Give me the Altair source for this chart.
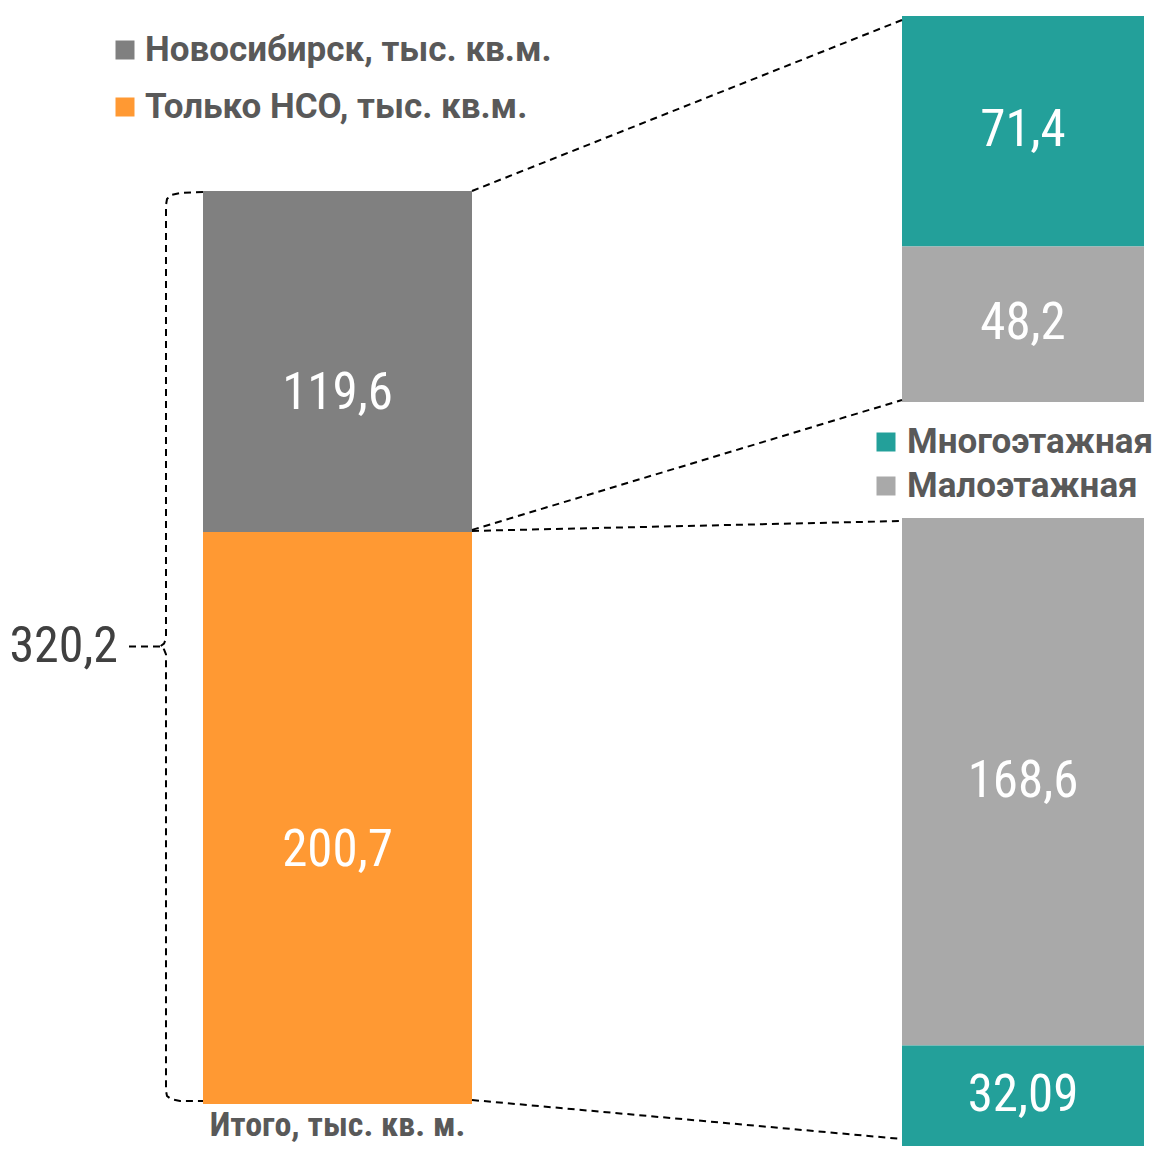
import altair as alt
import pandas as pd

# ---------------- data ----------------
left_categories = ["Новосибирск, тыс. кв.м.", "Только НСО, тыс. кв.м."]
left_values = [119.6, 200.7]              # top segment, bottom segment
left_colors = ["#808080", "#FF9933"]
total_value = 320.2
total_caption = "Итого, тыс. кв. м."

type_categories = ["Многоэтажная", "Малоэтажная"]
type_colors = ["#23A09A", "#A9A9A9"]
novosibirsk_by_type = [71.4, 48.2]        # Многоэтажная, Малоэтажная
nso_by_type = [32.09, 168.6]              # Многоэтажная, Малоэтажная

# ---------------- layout (page pixels) ----------------
W, H = 1148, 1138
LEFT_X = (203, 472)
LEFT_Y = (191, 1104)
RIGHT_X = (902, 1144)
RU_Y = (16, 402)
RL_Y = (518, 1146)

NUM_FONT = "Roboto Condensed, Liberation Sans Narrow, DejaVu Sans Condensed, Roboto"
LEG_FONT = "Roboto"


def fmt(v):
    return f"{v}".replace(".", ",")


def stack(items, x, y, label_shift=0.0):
    """items listed top -> bottom as (name, value, color)."""
    total = sum(v for _, v, _ in items)
    k = (y[1] - y[0]) / total
    rows, cum = [], 0.0
    for name, v, c in items:
        y0 = y[0] + cum * k
        cum += v
        y1 = y[0] + cum * k
        rows.append(dict(name=name, value=v, color=c, x=x[0], x2=x[1],
                         y=y0, y2=y1, lx=(x[0] + x[1]) / 2,
                         ly=(y0 + y1) / 2 + label_shift, label=fmt(v)))
    return rows


seg_rows = []
seg_rows += stack(list(zip(left_categories, left_values, left_colors)),
                  LEFT_X, LEFT_Y, label_shift=33)
seg_rows += stack([(type_categories[0], novosibirsk_by_type[0], type_colors[0]),
                   (type_categories[1], novosibirsk_by_type[1], type_colors[1])],
                  RIGHT_X, RU_Y)
seg_rows += stack([(type_categories[1], nso_by_type[1], type_colors[1]),
                   (type_categories[0], nso_by_type[0], type_colors[0])],
                  RIGHT_X, RL_Y)
segs = pd.DataFrame(seg_rows)

left_split = seg_rows[0]["y2"]

xs = alt.Scale(domain=[8, 8 + W], nice=False, zero=False)
ys = alt.Scale(domain=[8, 8 + H], nice=False, zero=False, reverse=True)

bars = alt.Chart(segs).mark_rect().encode(
    x=alt.X("x:Q", scale=xs, axis=None),
    x2="x2:Q",
    y=alt.Y("y:Q", scale=ys, axis=None),
    y2="y2:Q",
    color=alt.Color("color:N", scale=None),
)

values = alt.Chart(segs).mark_text(
    font=NUM_FONT, fontSize=51, color="white", align="center", baseline="middle"
).encode(
    x=alt.X("lx:Q", scale=xs, axis=None),
    y=alt.Y("ly:Q", scale=ys, axis=None),
    text="label:N",
)

# dashed connectors between the left bar and the breakdown bars
conn = [
    (LEFT_X[1], LEFT_Y[0], RIGHT_X[0], RU_Y[0] + 4),
    (LEFT_X[1], left_split - 2, RIGHT_X[0], RU_Y[1] - 2),
    (LEFT_X[1], left_split - 1, RIGHT_X[0], RL_Y[0] + 3),
    (LEFT_X[1], LEFT_Y[1] - 4, RIGHT_X[0], RL_Y[1] - 7),
]
conn_rows = []
for i, (a, b, c, d) in enumerate(conn):
    conn_rows.append(dict(id=i, o=0, x=a, y=b))
    conn_rows.append(dict(id=i, o=1, x=c, y=d))
conn_df = pd.DataFrame(conn_rows)

connectors = alt.Chart(conn_df).mark_line(
    color="black", strokeWidth=2, strokeDash=[7, 5]
).encode(
    x=alt.X("x:Q", scale=xs, axis=None),
    y=alt.Y("y:Q", scale=ys, axis=None),
    detail="id:N",
    order="o:Q",
)

# bracket on the left of the total bar
bx = 166
top, bot = LEFT_Y[0] + 1, LEFT_Y[1] - 3
mid = (LEFT_Y[0] + LEFT_Y[1]) / 2 - 1
br_pts = [
    (LEFT_X[0], top), (180, top + 1), (171, top + 3), (167, top + 7), (bx, top + 13),
    (bx, mid - 8), (bx - 2, mid - 3), (bx - 6, mid), (bx - 2, mid + 3), (bx, mid + 8),
    (bx, bot - 10), (bx + 1, bot - 5), (bx + 5, bot - 2), (180, bot), (LEFT_X[0], bot),
]
br_rows = [dict(id="b", o=i, x=p[0], y=p[1]) for i, p in enumerate(br_pts)]
br_rows += [dict(id="t", o=0, x=bx - 6, y=mid), dict(id="t", o=1, x=127, y=mid)]
br_df = pd.DataFrame(br_rows)

bracket = alt.Chart(br_df).mark_line(
    color="black", strokeWidth=2, strokeDash=[7, 5]
).encode(
    x=alt.X("x:Q", scale=xs, axis=None),
    y=alt.Y("y:Q", scale=ys, axis=None),
    detail="id:N",
    order="o:Q",
)

total_df = pd.DataFrame([dict(x=118, y=mid, label=fmt(total_value))])
total_text = alt.Chart(total_df).mark_text(
    font=NUM_FONT, fontSize=50, color="#404040", align="right", baseline="middle"
).encode(
    x=alt.X("x:Q", scale=xs, axis=None),
    y=alt.Y("y:Q", scale=ys, axis=None),
    text="label:N",
)

cap_df = pd.DataFrame([dict(x=(LEFT_X[0] + LEFT_X[1]) / 2, y=1136, label=total_caption)])
caption = alt.Chart(cap_df).mark_text(
    font=NUM_FONT, fontSize=34, fontWeight="bold", color="#595959",
    align="center", baseline="alphabetic",
).encode(
    x=alt.X("x:Q", scale=xs, axis=None),
    y=alt.Y("y:Q", scale=ys, axis=None),
    text="label:N",
)

# custom legends
leg_rows = [
    dict(sx=125, sy=50, tx=145, ty=50, label=left_categories[0], color=left_colors[0]),
    dict(sx=125, sy=107, tx=145, ty=107, label=left_categories[1], color=left_colors[1]),
    dict(sx=886, sy=442, tx=907, ty=442, label=type_categories[0], color=type_colors[0]),
    dict(sx=886, sy=486, tx=907, ty=486, label=type_categories[1], color=type_colors[1]),
]
leg_df = pd.DataFrame(leg_rows)

leg_sq = alt.Chart(leg_df).mark_square(size=361, opacity=1).encode(
    x=alt.X("sx:Q", scale=xs, axis=None),
    y=alt.Y("sy:Q", scale=ys, axis=None),
    color=alt.Color("color:N", scale=None),
)
leg_tx = alt.Chart(leg_df).mark_text(
    font=LEG_FONT, fontSize=35, fontWeight="bold", color="#595959",
    align="left", baseline="middle",
).encode(
    x=alt.X("tx:Q", scale=xs, axis=None),
    y=alt.Y("ty:Q", scale=ys, axis=None),
    text="label:N",
)

chart = alt.layer(
    bars, connectors, bracket, values, total_text, caption, leg_sq, leg_tx
).properties(
    width=W, height=H,
    autosize=alt.AutoSizeParams(type="fit", contains="padding"),
    padding=0,
    background="white",
).configure_view(stroke=None)

chart.save("out.html", embed_options={"renderer": "svg", "actions": False})
